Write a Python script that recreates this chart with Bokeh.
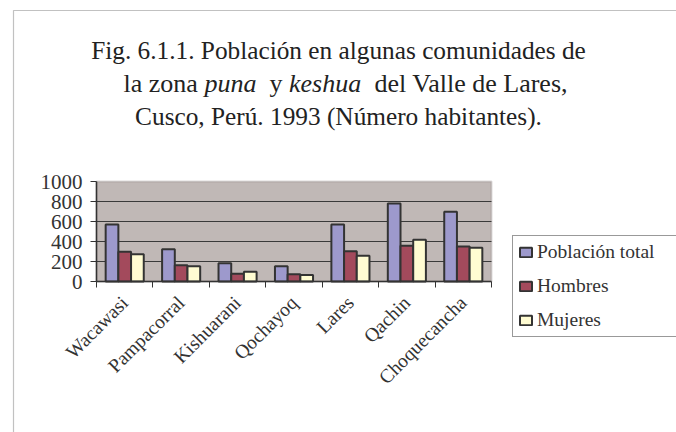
import math
import numpy as np
from bokeh.plotting import figure
from bokeh.models import (Range1d, FixedTicker, LinearAxis, CustomJSTickFormatter,
                          Legend, LegendItem, Label, BoxAnnotation)
from bokeh.embed import file_html
from bokeh.resources import INLINE

# ---- data ----
categories = ["Wacawasi", "Pampacorral", "Kishuarani", "Qochayoq", "Lares", "Qachin", "Choquecancha"]
poblacion_total = [570, 323, 183, 152, 570, 780, 697]
hombres = [297, 162, 78, 72, 303, 357, 350]
mujeres = [272, 152, 97, 66, 258, 418, 338]
series_names = ["Población total", "Hombres", "Mujeres"]
y_ticks = [0, 200, 400, 600, 800, 1000]

colors = ["#9D99CC", "#A34A5C", "#FFFCD2"]
FONT = "Liberation Serif"
INK = "#333333"

# ---- layout geometry (page px); canvas sits at the page origin ----
W, H = 676, 432
CX0, CY0 = 0, 0
PL, PR, PT, PB = 96, 491, 181, 281          # plot area
n = len(categories)
ymax = y_ticks[-1]
ux = (PR - PL) / n                           # px per category
uy = (PB - PT) / ymax                        # px per unit
x_start = -(PL - CX0) / ux
x_end = n + (CX0 + W - PR) / ux
y_start = -(CY0 + H - PB) / uy
y_end = ymax + (PT - CY0) / uy

def xd(px):
    return (px - PL) / ux
def yd(py):
    return (PB - py) / uy

p = figure(width=W, height=H, output_backend="svg", toolbar_location=None,
           x_range=Range1d(x_start, x_end), y_range=Range1d(y_start, y_end),
           min_border=0, x_axis_type=None, y_axis_type=None)
p.background_fill_color = "white"
p.border_fill_color = "white"
p.outline_line_color = None
p.xgrid.grid_line_color = None
p.ygrid.grid_line_color = None

# plot area background
p.add_layout(BoxAnnotation(left=0, right=n, bottom=0, top=ymax,
                           fill_color="#C0B8B6", fill_alpha=1,
                           line_color="#8C8282", line_width=2, level="underlay"))

# horizontal grid lines at the inner ticks
inner = y_ticks[1:-1]
p.segment(x0=[0] * len(inner), x1=[n] * len(inner), y0=inner, y1=inner,
          line_color="#3A3A3A", line_width=1)

idx = np.arange(n)
bw = 0.225
renderers = []
for k, (vals, col) in enumerate(zip([poblacion_total, hombres, mujeres], colors)):
    r = p.vbar(x=idx + 0.5 + (k - 1) * bw, top=vals, width=bw, bottom=0,
               fill_color=col, line_color=INK, line_width=2)
    renderers.append(r)

yax = LinearAxis(ticker=FixedTicker(ticks=y_ticks), fixed_location=0, bounds=(0, ymax))
yax.major_label_text_font = FONT
yax.major_label_text_font_size = "21px"
yax.major_label_text_color = INK
yax.axis_line_color = INK
yax.axis_line_width = 1.5
yax.major_tick_line_color = INK
yax.major_tick_out = 6
yax.major_tick_in = 0
yax.minor_tick_line_color = None
yax.major_label_standoff = 8
p.add_layout(yax, "left")

xax = LinearAxis(ticker=FixedTicker(ticks=list(idx + 0.5), minor_ticks=list(range(n + 1))),
                 formatter=CustomJSTickFormatter(args=dict(cats=categories),
                                                 code="return cats[Math.floor(tick)];"),
                 fixed_location=0, bounds=(0, n))
xax.axis_line_color = INK
xax.axis_line_width = 1.5
xax.major_tick_line_color = None
xax.minor_tick_line_color = INK
xax.minor_tick_out = 6
xax.minor_tick_in = 0
xax.major_label_text_font = FONT
xax.major_label_text_font_size = "19.5px"
xax.major_label_text_color = INK
xax.major_label_orientation = math.pi / 4
xax.major_label_standoff = 12
p.add_layout(xax, "below")

# legend (location in px from the bottom-left of the frame = canvas)
legend = Legend(items=[LegendItem(label=s, renderers=[r]) for s, r in zip(series_names, renderers)],
                location=(512 - CX0, CY0 + H - 337))
legend.label_text_font = FONT
legend.label_text_font_size = "19.5px"
legend.label_text_color = INK
legend.glyph_width = 15
legend.glyph_height = 12
legend.label_standoff = 4
legend.padding = 5
legend.spacing = 12
legend.margin = 0
legend.label_width = 150
legend.border_line_color = INK
legend.border_line_width = 1.2
legend.background_fill_color = "white"
legend.background_fill_alpha = 1
p.add_layout(legend, "center")

# outer frame of the figure (only its left and top edges fall inside the canvas)
p.add_layout(BoxAnnotation(left=xd(13), right=xd(2000), top=yd(10), bottom=yd(2000),
                           fill_alpha=0, line_color=INK, line_width=1.2, level="overlay"))

# title
def lab(text, px, py, align="left", style="normal", size="26px"):
    p.add_layout(Label(x=xd(px), y=yd(py), text=text, text_font=FONT, text_font_size=size,
                       text_font_style=style, text_color="#222222", text_align=align,
                       text_baseline="alphabetic"))

lab("Fig. 6.1.1. Población en algunas comunidades de", 338, 49, align="center", size="25.3px")
lab("la zona", 123, 83)
lab("puna", 204, 83, style="italic")
lab("y", 269, 83)
lab("keshua", 288.5, 83, style="italic")
lab("del Valle de Lares,", 374, 83)
lab("Cusco, Perú. 1993 (Número habitantes).", 338, 115, align="center", size="25.3px")

open("out.html", "w").write(file_html(p, INLINE))
